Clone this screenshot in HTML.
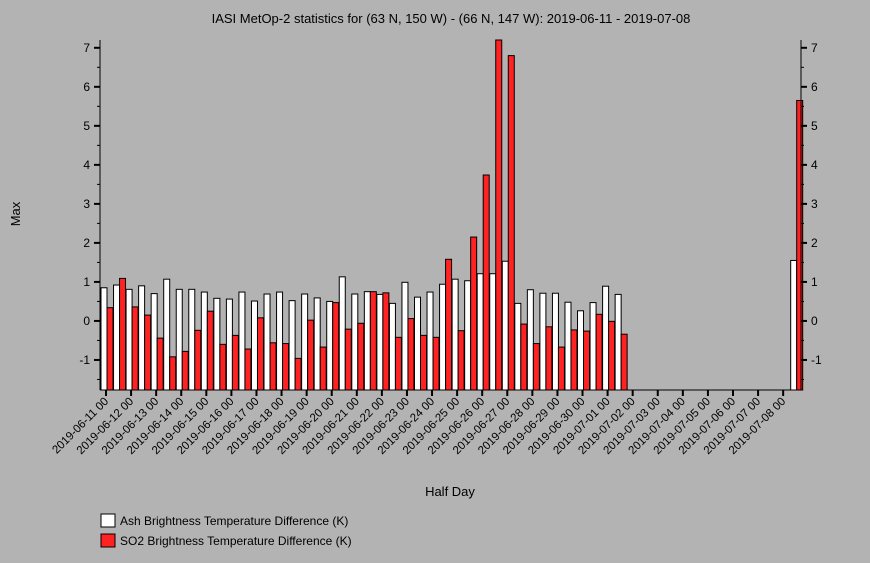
<!DOCTYPE html>
<html><head><meta charset="utf-8"><style>
body{margin:0;background:#b3b3b3;}
svg{display:block;font-family:"Liberation Sans",sans-serif;}
</style></head><body>
<svg id="chart" width="870" height="563">
<rect width="870" height="563" fill="#b3b3b3"/>
<text x="451" y="23" font-size="13" text-anchor="middle" fill="#000">IASI MetOp-2 statistics for (63 N, 150 W) - (66 N, 147 W): 2019-06-11 - 2019-07-08</text>
<text x="20" y="214" font-size="13" text-anchor="middle" transform="rotate(-90 20 214)">Max</text>
<text x="450" y="496" font-size="13" text-anchor="middle">Half Day</text>
<g id="plot"></g>
<g>
<g><rect x="101" y="514" width="14" height="13" fill="#fff" stroke="#000"/><text x="120" y="525" font-size="12">Ash Brightness Temperature Difference (K)</text></g>
<g><rect x="101" y="534" width="14" height="13" fill="#f22" stroke="#000"/><text x="120" y="545" font-size="12">SO2 Brightness Temperature Difference (K)</text></g>
</g>
</svg>
<script>
const days=["2019-06-11 00","2019-06-12 00","2019-06-13 00","2019-06-14 00","2019-06-15 00","2019-06-16 00","2019-06-17 00","2019-06-18 00","2019-06-19 00","2019-06-20 00","2019-06-21 00","2019-06-22 00","2019-06-23 00","2019-06-24 00","2019-06-25 00","2019-06-26 00","2019-06-27 00","2019-06-28 00","2019-06-29 00","2019-06-30 00","2019-07-01 00","2019-07-02 00","2019-07-03 00","2019-07-04 00","2019-07-05 00","2019-07-06 00","2019-07-07 00","2019-07-08 00"];
const ash=[0.85,0.92,0.81,0.90,0.70,1.07,0.81,0.81,0.74,0.58,0.56,0.74,0.51,0.69,0.74,0.52,0.69,0.59,0.50,1.13,0.69,0.75,0.68,0.45,0.99,0.61,0.74,0.94,1.07,1.03,1.21,1.21,1.53,0.45,0.80,0.71,0.71,0.48,0.26,0.47,0.89,0.68,null,null,null,null,null,null,null,null,null,null,null,null,null,1.55];
const so2=[0.34,1.09,0.36,0.15,-0.44,-0.92,-0.78,-0.24,0.25,-0.60,-0.37,-0.72,0.08,-0.56,-0.58,-0.96,0.02,-0.67,0.47,-0.21,-0.06,0.75,0.72,-0.42,0.06,-0.37,-0.42,1.58,-0.25,2.15,3.74,7.2,6.8,-0.08,-0.58,-0.15,-0.67,-0.23,-0.26,0.17,-0.01,-0.34,null,null,null,null,null,null,null,null,null,null,null,null,null,5.65];
const yTicks=[-1,0,1,2,3,4,5,6,7];
const NS="http://www.w3.org/2000/svg";
const L=100,R=801,T=40,B=390;
const yMin=-1.77,yMax=7.2;
const y=v=>B-(v-yMin)/(yMax-yMin)*(B-T);
const x=i=>107+i*12.54;
const g=document.getElementById('plot');
function mk(tag,a){const e=document.createElementNS(NS,tag);for(const k in a)e.setAttribute(k,a[k]);g.appendChild(e);return e;}
ash.forEach((v,i)=>{if(v===null)return;
 const r=mk('rect',{x:x(i)-6,y:Math.max(T,y(v)),width:6,height:B-Math.max(T,y(v)),fill:'#fff',stroke:'#000','stroke-width':1});
 
 });
so2.forEach((v,i)=>{if(v===null)return;
 const r=mk('rect',{x:x(i),y:Math.max(T,y(v)),width:6,height:B-Math.max(T,y(v)),fill:'#f22',stroke:'#000','stroke-width':1});
 
 });
mk('line',{x1:L,y1:T,x2:L,y2:B,stroke:'#000'});
mk('line',{x1:R,y1:T,x2:R,y2:B,stroke:'#000'});
mk('line',{x1:L,y1:B,x2:R,y2:B,stroke:'#000'});
for(let v=-1.5;v<=7;v+=0.5){
 const major=Number.isInteger(v),len=major?6:3;
 mk('line',{x1:L-len,y1:y(v),x2:L,y2:y(v),stroke:'#000','stroke-width':major?2:1});
 mk('line',{x1:R,y1:y(v),x2:R+len,y2:y(v),stroke:'#000','stroke-width':major?2:1});
}
yTicks.forEach(v=>{
 const t=mk('text',{x:L-10,y:y(v)+4,'font-size':12,'text-anchor':'end'});t.textContent=v;
 
 
 const t2=mk('text',{x:R+10,y:y(v)+4,'font-size':12});t2.textContent=v;
 
 
});
days.forEach((d,i)=>{
 const xx=x(i*2)-1;
 mk('line',{x1:xx,y1:B,x2:xx,y2:B+6,stroke:'#000','stroke-width':2});
 const t=mk('text',{x:xx+3,y:B+12,'font-size':11.5,'text-anchor':'end',transform:`rotate(-45 ${xx+3} ${B+12})`});t.textContent=d;
 
 
});
</script>
</body></html>
